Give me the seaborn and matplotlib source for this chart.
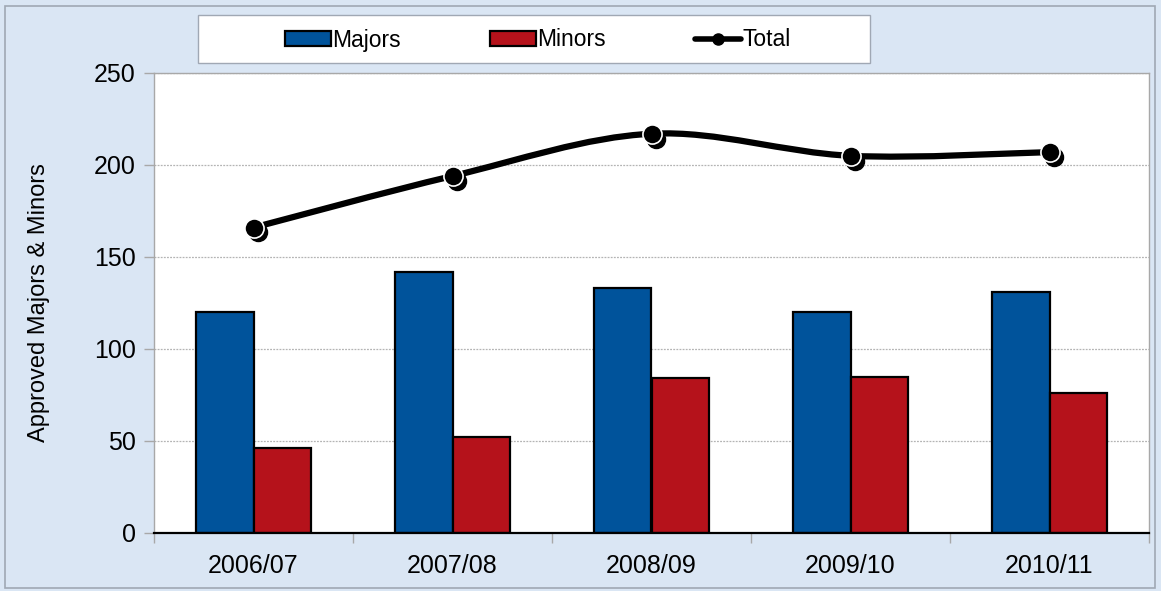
import numpy as np
import pandas as pd
import matplotlib
matplotlib.use("Agg")
import matplotlib.pyplot as plt
import matplotlib.transforms as mtransforms
from matplotlib.path import Path
from matplotlib.patches import PathPatch, Patch, Rectangle
from matplotlib.lines import Line2D
import seaborn as sns

# Data
years = ["2006/07", "2007/08", "2008/09", "2009/10", "2010/11"]
majors = [120, 142, 133, 120, 131]
minors = [46, 52, 84, 85, 76]
totals = [166, 194, 217, 205, 207]

# Colours
blue = "#00539b"
red = "#b5121b"
bg = "#dae6f4"

df = pd.DataFrame({
    "Year": years * 2,
    "Count": majors + minors,
    "Type": ["Majors"] * len(years) + ["Minors"] * len(years),
})

sns.set_style("white")
plt.rcParams["font.family"] = ["Liberation Sans", "DejaVu Sans"]
plt.rcParams["text.color"] = "black"
plt.rcParams["axes.labelcolor"] = "black"
plt.rcParams["xtick.color"] = "black"
plt.rcParams["ytick.color"] = "black"

W, H = 1161, 591
fig = plt.figure(figsize=(W / 100, H / 100), dpi=100)
fig.patch.set_facecolor(bg)
# outer frame
fig.patches.append(Rectangle((5 / W, 3 / H), 1150 / W, 582 / H,
                             transform=fig.transFigure, fill=False,
                             edgecolor="#a0a8b4", linewidth=1.2))
# legend box
fig.patches.append(Rectangle((198 / W, 1 - 63 / H), 672 / W, 48 / H,
                             transform=fig.transFigure, facecolor="white",
                             edgecolor="#a0a8b4", linewidth=1.0))

ax = fig.add_axes([154 / W, 1 - 533 / H, 995 / W, 460 / H])
ax.set_facecolor("white")

sns.barplot(data=df, x="Year", y="Count", hue="Type", order=years,
            palette=[blue, red], width=0.575, edgecolor="black",
            linewidth=1.6, saturation=1, legend=False, ax=ax)

# smoothed total line (Bezier through the points, Excel-style)
xs = np.arange(len(totals), dtype=float)
ys = np.array(totals, dtype=float)
verts = [(xs[0], ys[0])]
codes = [Path.MOVETO]
for i in range(len(xs) - 1):
    p0 = np.array([xs[max(i - 1, 0)], ys[max(i - 1, 0)]])
    p1 = np.array([xs[i], ys[i]])
    p2 = np.array([xs[i + 1], ys[i + 1]])
    p3 = np.array([xs[min(i + 2, len(xs) - 1)], ys[min(i + 2, len(xs) - 1)]])
    c1 = p1 + (p2 - p0) / 6
    c2 = p2 - (p3 - p1) / 6
    verts += [tuple(c1), tuple(c2), tuple(p2)]
    codes += [Path.CURVE4] * 3
ax.add_patch(PathPatch(Path(verts, codes), fill=False, edgecolor="black",
                       linewidth=4.5, capstyle="round", zorder=4))

# marker shadows
shadow = ax.transData + mtransforms.ScaledTranslation(3 / 72, -3.5 / 72, fig.dpi_scale_trans)
ax.plot(xs, ys, linestyle="none", marker="o", markersize=13,
        color="black", transform=shadow, zorder=5)
sns.scatterplot(x=xs, y=ys, s=190, color="black", edgecolor="white",
                linewidth=1.2, zorder=6, ax=ax)

ax.set_xlim(-0.5, len(years) - 0.5)
ax.set_ylim(0, 250)
ax.set_yticks(range(0, 251, 50))
ax.set_xticks(range(len(years)))
ax.set_xticklabels(years)
ax.set_xticks(np.arange(-0.5, len(years), 1.0), minor=True)

ax.yaxis.grid(True, color="#b4b4b4", linestyle=(0, (1.5, 1)), linewidth=0.9)
ax.set_axisbelow(True)

for side in ["left", "right", "top"]:
    ax.spines[side].set_visible(True)
    ax.spines[side].set_color("#a8a8a8")
    ax.spines[side].set_linewidth(1.0)
ax.spines["bottom"].set_color("black")
ax.spines["bottom"].set_linewidth(1.6)

ax.tick_params(axis="y", which="major", direction="out", length=7, width=1,
               color="#a8a8a8", labelcolor="black", labelsize=18, pad=6, left=True)
ax.tick_params(axis="x", which="major", length=0, labelsize=18,
               labelcolor="black", pad=15)
ax.tick_params(axis="x", which="minor", direction="out", length=7, width=1,
               color="#a8a8a8", bottom=True)

ax.set_xlabel("")
ax.set_ylabel("Approved Majors & Minors", fontsize=17, labelpad=32,
              color="black")

# Legend (frame drawn above as a rectangle)
handles = [
    Patch(facecolor=blue, edgecolor="black", linewidth=1.6),
    Patch(facecolor=red, edgecolor="black", linewidth=1.6),
    Line2D([], [], color="black", linewidth=4, marker="o", markersize=8,
           markeredgecolor="black"),
]
leg = fig.legend(handles, ["Majors", "Minors", "Total"], ncol=3,
                 loc="center", bbox_to_anchor=(538 / W, 1 - 40 / H),
                 frameon=False, fontsize=16.5, handlelength=2.0,
                 handleheight=0.6, handletextpad=0.05, columnspacing=3.9,
                 borderpad=0.3)
for t in leg.get_texts():
    t.set_color("black")

fig.savefig("out.png", dpi=100, facecolor=bg)
